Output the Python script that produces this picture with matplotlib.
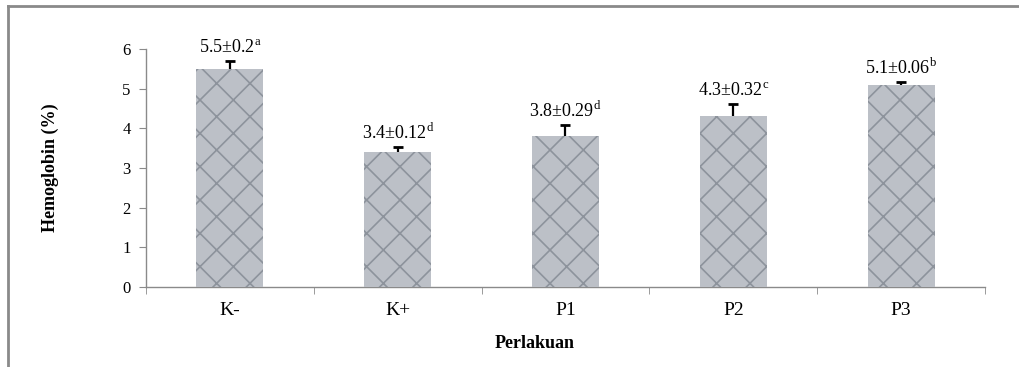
import numpy as np
import matplotlib.pyplot as plt
from matplotlib.lines import Line2D

plt.rcParams['font.family'] = ['Liberation Serif', 'DejaVu Serif']
plt.rcParams['mathtext.fontset'] = 'custom'
plt.rcParams['mathtext.rm'] = 'Liberation Serif'
plt.rcParams['hatch.linewidth'] = 1.2

categories = ["K-", "K+", "P1", "P2", "P3"]
means = [5.5, 3.4, 3.8, 4.3, 5.1]
errors = [0.2, 0.12, 0.29, 0.32, 0.06]
err_text = ["0.2", "0.12", "0.29", "0.32", "0.06"]
letters = ["a", "d", "d", "c", "b"]
y_ticks = [0, 1, 2, 3, 4, 5, 6]

axis_grey = "#8a8a8a"

fig = plt.figure(figsize=(10.2, 3.67), dpi=100)
ax = fig.add_axes([146 / 1020, 1 - 287 / 367, (985 - 146) / 1020, (287 - 49) / 367])

x = np.arange(len(categories))
ax.bar(x, means, width=0.4, color="#bcc0c7", edgecolor="#8d939c",
       hatch="/\\", linewidth=0, zorder=3)
# error bar sits behind the bar so only the upper "T" shows
ax.errorbar(x, means, yerr=errors, fmt="none",
            ecolor="black", elinewidth=1.6, capsize=3.8, capthick=2, zorder=2)

for xi, m, e, et, lt in zip(x, means, errors, err_text, letters):
    label = f"{m}\u00b1{et}$^{{\\mathrm{{{lt}}}}}$"
    ax.annotate(label, (xi, m + e), xytext=(0, 3), textcoords="offset points",
                ha="center", va="bottom", fontsize=13)

ax.set_xlim(-0.5, len(categories) - 0.5)
ax.set_ylim(0, 6)
ax.set_yticks(y_ticks)
ax.set_xticks(x)
ax.set_xticklabels(categories, fontsize=14)
ax.set_xticks(np.arange(len(categories) + 1) - 0.5, minor=True)
ax.tick_params(axis="x", which="major", length=0, pad=11)
ax.tick_params(axis="x", which="minor", length=5, color=axis_grey, direction="out")
ax.tick_params(axis="y", length=5, color=axis_grey, labelsize=12, pad=6)

for side in ["top", "right"]:
    ax.spines[side].set_visible(False)
for side in ["left", "bottom"]:
    ax.spines[side].set_color(axis_grey)
    ax.spines[side].set_linewidth(1.0)

fig.text(50 / 1020, 1 - 168 / 367, "Hemoglobin (%)", rotation=90, ha="center",
         va="center", fontsize=13, fontweight="bold")
fig.text(535 / 1020, 1 - 343 / 367, "Perlakuan", ha="center", va="center",
         fontsize=13, fontweight="bold")

# outer frame (left and top edges only)
fig.add_artist(Line2D([8 / 1020, 8 / 1020], [0, 1 - 6 / 367], transform=fig.transFigure,
                      color=axis_grey, linewidth=2))
fig.add_artist(Line2D([8 / 1020, 1], [1 - 6 / 367, 1 - 6 / 367], transform=fig.transFigure,
                      color=axis_grey, linewidth=2))

fig.savefig("out.png", dpi=100)
